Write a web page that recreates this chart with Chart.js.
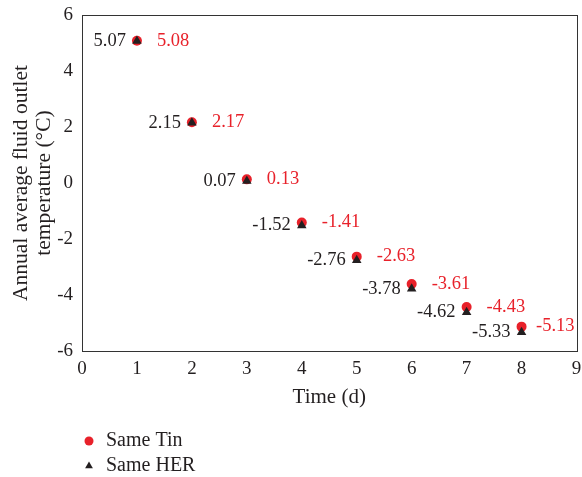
<!DOCTYPE html>
<html>
<head>
<meta charset="utf-8">
<script src="https://cdn.jsdelivr.net/npm/chart.js@4"></script>
<style>
  html, body { margin: 0; padding: 0; background: #fff; }
  #wrap { width: 582px; height: 477px; }
</style>
</head>
<body>
<div id="wrap"><canvas id="grafico" width="582" height="477"></canvas></div>
<script>
// datos
var dias = [1, 2, 3, 4, 5, 6, 7, 8];
var mismoTin = [5.08, 2.17, 0.13, -1.41, -2.63, -3.61, -4.43, -5.13];
var mismoHER = [5.07, 2.15, 0.07, -1.52, -2.76, -3.78, -4.62, -5.33];
var ticksY = [-6, -4, -2, 0, 2, 4, 6];
var ticksX = [0, 1, 2, 3, 4, 5, 6, 7, 8, 9];

var FUENTE = "'Liberation Serif', 'DejaVu Serif', serif";
var ROJO = "#e8212a";
var NEGRO = "#231f20";

function puntos(ys) {
  return dias.map(function (d, i) { return { x: d, y: ys[i] }; });
}

// marco alrededor del area del grafico
var marco = {
  id: "marco",
  afterDraw: function (chart) {
    var c = chart.ctx, a = chart.chartArea;
    c.save();
    c.strokeStyle = "#333";
    c.lineWidth = 1;
    c.strokeRect(Math.round(a.left) + 0.5, Math.round(a.top) + 0.5,
      Math.round(a.right - a.left), Math.round(a.bottom - a.top));
    c.restore();
  }
};

// etiquetas de valores: negras a la izquierda, rojas a la derecha
var etiquetas = {
  id: "etiquetas",
  afterDatasetsDraw: function (chart) {
    var c = chart.ctx, a = chart.chartArea;
    c.save();
    c.font = "18.5px " + FUENTE;
    c.textBaseline = "middle";
    c.textAlign = "left";
    chart.data.datasets.forEach(function (ds, di) {
      var meta = chart.getDatasetMeta(di);
      meta.data.forEach(function (el, i) {
        var txt = ds.data[i].y.toFixed(2);
        var w = c.measureText(txt).width;
        if (ds.lado === "izq") {
          c.fillStyle = NEGRO;
          c.fillText(txt, el.x - 11 - w, el.y);
        } else {
          c.fillStyle = ROJO;
          var x = Math.min(el.x + 20, a.right - w - 2);
          c.fillText(txt, x, el.y);
        }
      });
    });
    c.restore();
  }
};

// leyenda abajo, una entrada por linea
var leyenda = {
  id: "leyenda",
  afterDraw: function (chart) {
    var c = chart.ctx;
    var items = [
      { txt: "Same Tin", estilo: "circle", color: ROJO, y: 441 },
      { txt: "Same HER", estilo: "triangle", color: NEGRO, y: 466 }
    ];
    c.save();
    items.forEach(function (it) {
      c.fillStyle = it.color;
      c.strokeStyle = it.color;
      Chart.helpers.drawPoint(c, { pointStyle: it.estilo, radius: 4.5, borderWidth: 0 }, 89, it.y);
      c.fillStyle = NEGRO;
      c.font = "20px " + FUENTE;
      c.textBaseline = "middle";
      c.textAlign = "left";
      c.fillText(it.txt, 106, it.y);
    });
    c.restore();
  }
};

var ctx = document.getElementById("grafico").getContext("2d");

var myChart = new Chart(ctx, {
  type: "scatter",
  data: {
    datasets: [
      {
        label: "Same Tin",
        data: puntos(mismoTin),
        pointStyle: "circle",
        pointRadius: 5,
        backgroundColor: ROJO,
        borderColor: ROJO,
        borderWidth: 0,
        lado: "der",
        order: 1
      },
      {
        label: "Same HER",
        data: puntos(mismoHER),
        pointStyle: "triangle",
        pointRadius: 5.5,
        backgroundColor: NEGRO,
        borderColor: NEGRO,
        borderWidth: 0,
        lado: "izq",
        order: 0
      }
    ]
  },
  options: {
    responsive: false,
    animation: false,
    layout: { padding: { top: 15, right: 5, left: 0, bottom: 0 } },
    plugins: {
      legend: { display: false },
      tooltip: { enabled: false }
    },
    scales: {
      x: {
        type: "linear",
        min: 0,
        max: 9,
        grid: { display: false, drawTicks: false },
        border: { display: false },
        afterBuildTicks: function (s) { s.ticks = ticksX.map(function (v) { return { value: v }; }); },
        afterFit: function (s) {
          s.height = 126;
          s.paddingLeft = 0;
          s.paddingRight = 0;
        },
        ticks: { color: NEGRO, padding: 7, font: { family: FUENTE, size: 19 } },
        title: {
          display: true,
          text: "Time (d)",
          color: NEGRO,
          font: { family: FUENTE, size: 21 },
          padding: { top: 0, bottom: 67 }
        }
      },
      y: {
        min: -6,
        max: 6,
        grid: { display: false, drawTicks: false },
        border: { display: false },
        afterBuildTicks: function (s) { s.ticks = ticksY.map(function (v) { return { value: v }; }); },
        afterFit: function (s) {
          s.width = 82;
          s.paddingTop = 0;
          s.paddingBottom = 0;
        },
        ticks: { color: NEGRO, padding: 9, font: { family: FUENTE, size: 19 } },
        title: {
          display: true,
          text: ["Annual average fluid outlet", "temperature (°C)"],
          color: NEGRO,
          font: { family: FUENTE, size: 21.5, lineHeight: 1.05 },
          padding: { top: 10, bottom: 0 }
        }
      }
    }
  },
  plugins: [marco, etiquetas, leyenda]
});
</script>
</body>
</html>
